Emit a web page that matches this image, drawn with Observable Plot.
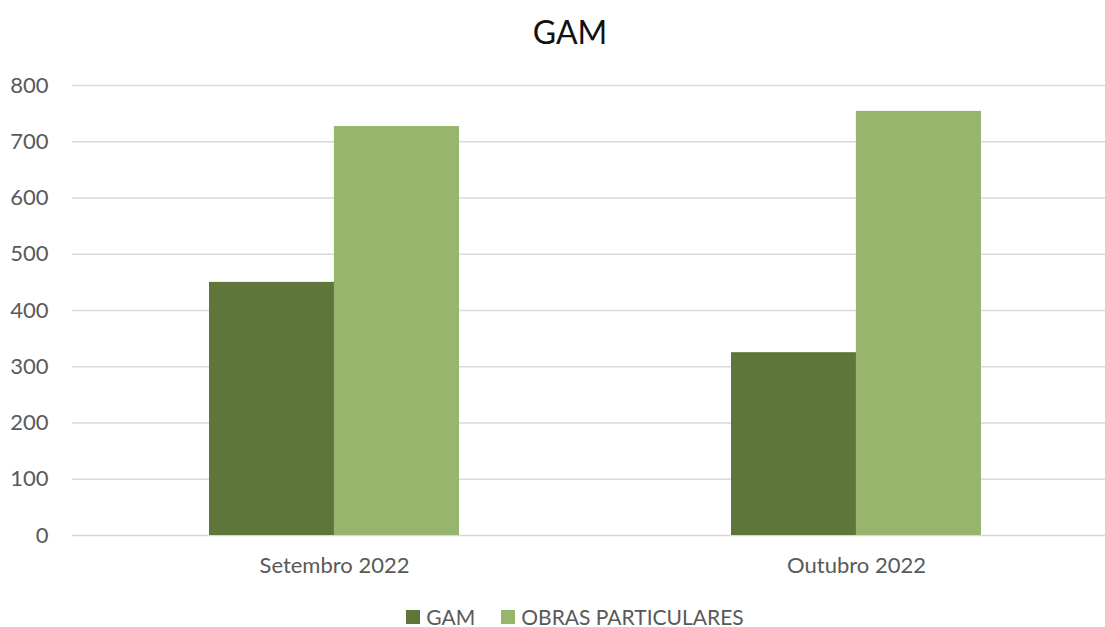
<!DOCTYPE html>
<html>
<head>
<meta charset="utf-8">
<script src="https://cdn.jsdelivr.net/npm/d3@7"></script>
<script src="https://cdn.jsdelivr.net/npm/@observablehq/plot@0.6"></script>
<style>
  html, body { margin: 0; padding: 0; background: #fff; overflow: hidden; }
  body { width: 1105px; height: 627px; font-family: Lato, "Open Sans", sans-serif; position: relative; }
  #title { position: absolute; left: 0; width: 1140px; top: 10px; text-align: center; font-size: 32px; color: #111; line-height: 44px; }
  #chart { position: absolute; left: 0; top: 60px; }
  #legend { position: absolute; top: 607px; left: 0; width: 1150px; display: flex; justify-content: center; font-size: 21px; color: #595959; line-height: 20px; height: 20px; }
  .item { display: flex; align-items: center; margin: 0 13px; }
  .sw { width: 14px; height: 14px; margin-right: 6px; }
</style>
</head>
<body>
<div id="title">GAM</div>
<div id="chart"></div>
<div id="legend"></div>
<script>
const months = ["Setembro 2022", "Outubro 2022"];
const seriesNames = ["GAM", "OBRAS PARTICULARES"];
const gamValues = [450, 325];
const obrasValues = [727, 754];
const yTicks = [0, 100, 200, 300, 400, 500, 600, 700, 800];
const colors = ["#5E763A", "#97B56C"];

const gamData = months.map((m, i) => ({month: m, value: gamValues[i]}));
const obrasData = months.map((m, i) => ({month: m, value: obrasValues[i]}));

const marginLeft = 72, marginRight = -12, width = 1105;
const pInner = 0.522, pOuter = 0.261;
const step = (width - marginLeft - marginRight) / (months.length - pInner + 2 * pOuter);
const half = step * (1 - pInner) / 2;

const plot = Plot.plot({
  width,
  height: 535,
  marginLeft,
  marginRight,
  marginTop: 25,
  marginBottom: 60,
  style: {fontFamily: "Lato, 'Open Sans', sans-serif", fontSize: "22px", color: "#595959", background: "#fff"},
  x: {type: "band", domain: months, paddingInner: pInner, paddingOuter: pOuter, label: null},
  y: {domain: [0, 800], label: null},
  marks: [
    Plot.gridY(yTicks, {stroke: "#D9D9D9", strokeOpacity: 1, strokeWidth: 1.5}),
    Plot.barY(gamData, {x: "month", y: "value", fill: colors[0], insetRight: half}),
    Plot.barY(obrasData, {x: "month", y: "value", fill: colors[1], insetLeft: half}),
    Plot.axisY(yTicks, {tickSize: 0, tickPadding: 24, label: null, fill: "#595959", fontSize: 22}),
    Plot.axisX({tickSize: 0, tickPadding: 22, label: null, fill: "#595959", fontSize: 22})
  ]
});
document.getElementById("chart").appendChild(plot);

const legend = document.getElementById("legend");
seriesNames.forEach((name, i) => {
  const item = document.createElement("div");
  item.className = "item";
  const sw = document.createElement("div");
  sw.className = "sw";
  sw.style.background = colors[i];
  const label = document.createElement("span");
  label.textContent = name;
  item.appendChild(sw);
  item.appendChild(label);
  legend.appendChild(item);
});
</script>
</body>
</html>
